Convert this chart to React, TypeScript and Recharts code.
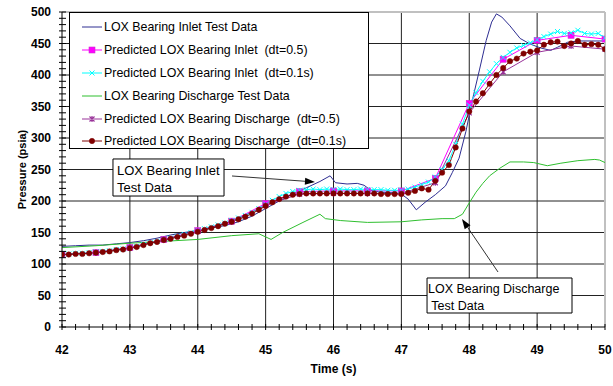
import React from 'react';
import {
  LineChart,
  Line,
  XAxis,
  YAxis,
  CartesianGrid,
  ReferenceLine,
  ReferenceArea,
  Legend,
} from 'recharts';

const FONT = '"Liberation Sans", Arial, Helvetica, sans-serif';

// ---- series names ----
const seriesNames = [
  'LOX Bearing Inlet Test Data',
  'Predicted LOX Bearing Inlet  (dt=0.5)',
  'Predicted LOX Bearing Inlet  (dt=0.1s)',
  'LOX Bearing Discharge Test Data',
  'Predicted LOX Bearing Discharge  (dt=0.5)',
  'Predicted LOX Bearing Discharge  (dt=0.1s)',
];

// ---- axis ticks ----
const xTicks = [
  42, 42.2, 42.4, 42.6, 42.8, 43, 43.2, 43.4, 43.6, 43.8, 44, 44.2, 44.4, 44.6, 44.8,
  45, 45.2, 45.4, 45.6, 45.8, 46, 46.2, 46.4, 46.6, 46.8, 47, 47.2, 47.4, 47.6, 47.8,
  48, 48.2, 48.4, 48.6, 48.8, 49, 49.2, 49.4, 49.6, 49.8, 50,
];
const yTicks = [
  0, 10, 20, 30, 40, 50, 60, 70, 80, 90, 100, 110, 120, 130, 140, 150, 160, 170, 180, 190,
  200, 210, 220, 230, 240, 250, 260, 270, 280, 290, 300, 310, 320, 330, 340, 350, 360, 370,
  380, 390, 400, 410, 420, 430, 440, 450, 460, 470, 480, 490, 500,
];
const gridX = [43, 44, 45, 46, 47, 48, 49];
const gridY = [50, 100, 150, 200, 250, 300, 350, 400, 450];

// ---- time bases of the predictions ----
const time05 = [42, 42.5, 43, 43.5, 44, 44.5, 45, 45.5, 46, 46.5, 47, 47.5, 48, 48.5, 49, 49.5, 50];
const time01 = [
  42.0, 42.1, 42.2, 42.3, 42.4, 42.5, 42.6, 42.7, 42.8, 42.9,
  43.0, 43.1, 43.2, 43.3, 43.4, 43.5, 43.6, 43.7, 43.8, 43.9,
  44.0, 44.1, 44.2, 44.3, 44.4, 44.5, 44.6, 44.7, 44.8, 44.9,
  45.0, 45.1, 45.2, 45.3, 45.4, 45.5, 45.6, 45.7, 45.8, 45.9,
  46.0, 46.1, 46.2, 46.3, 46.4, 46.5, 46.6, 46.7, 46.8, 46.9,
  47.0, 47.1, 47.2, 47.3, 47.4, 47.5, 47.6, 47.7, 47.8, 47.9,
  48.0, 48.1, 48.2, 48.3, 48.4, 48.5, 48.6, 48.7, 48.8, 48.9,
  49.0, 49.1, 49.2, 49.3, 49.4, 49.5, 49.6, 49.7, 49.8, 49.9, 50.0,
];

// ---- LOX bearing inlet test data (psia) ----
const inletTestTime = [
  42.0, 42.2, 42.4, 42.6, 42.8, 43.0, 43.2, 43.4, 43.6, 43.8, 44.0, 44.2, 44.4, 44.6, 44.8,
  45.0, 45.2, 45.4, 45.6, 45.8, 45.95, 46.03, 46.2, 46.35, 46.45, 46.55, 46.7, 46.9, 47.0,
  47.1, 47.22, 47.35, 47.5, 47.65, 47.75, 47.85, 47.95, 48.05, 48.15, 48.25, 48.33, 48.4,
  48.48, 48.6, 48.75, 48.9, 49.05, 49.2, 49.3, 49.45, 49.6, 49.8, 50.0,
];
const inletTestPressure = [
  128, 129, 130, 130, 132, 134, 137, 141, 146, 150, 153, 157, 161, 167, 176,
  188, 200, 211, 221, 231, 240, 229, 227, 228, 225, 217, 214, 213, 211,
  203, 186, 198, 210, 224, 245, 268, 310, 362, 408, 455, 484, 497,
  492, 478, 458, 449, 443, 439, 444, 452, 454, 454, 454,
];

// ---- predicted LOX bearing inlet (psia) ----
const inletPred05 = [115, 118, 126, 139, 153, 168, 196, 215, 216, 216, 216, 236, 355, 425, 455, 463, 457];
const inletPred01 = [
  116, 116, 117, 117, 118, 119, 120, 121, 123, 124,
  126, 128, 131, 134, 136, 139, 141, 144, 147, 150,
  153, 156, 159, 162, 165, 169, 173, 177, 182, 188,
  195, 201, 207, 212, 215, 217, 218, 219, 218, 219,
  218, 219, 218, 218, 219, 218, 218, 218, 217, 217,
  217, 219, 222, 226, 230, 238, 250, 264, 290, 322,
  352, 372, 390, 405, 418, 428, 436, 443, 447, 451,
  456, 461, 465, 469, 466, 467, 471, 466, 465, 466, 459,
];

// ---- LOX bearing discharge test data (psia) ----
const dischTestTime = [
  42.0, 42.5, 43.0, 43.5, 44.0, 44.5, 44.9, 45.08, 45.25, 45.55, 45.8, 45.88, 46.1, 46.5,
  47.0, 47.3, 47.6, 47.78, 47.9, 48.0, 48.1, 48.2, 48.3, 48.45, 48.6, 48.8, 48.95, 49.15,
  49.35, 49.6, 49.85, 49.92, 50.0,
];
const dischTestPressure = [
  126, 129, 133, 136, 139, 145, 148, 139, 150, 166, 179, 172, 169, 166,
  167, 170, 172, 172, 179, 197, 214, 228, 240, 252, 262, 262, 261, 256,
  260, 264, 266, 265, 261,
];

// ---- predicted LOX bearing discharge (psia) ----
const dischPred05 = [115, 118, 126, 139, 152, 167, 193, 211, 212, 212, 212, 229, 340, 405, 436, 446, 441];
const dischPred01 = [
  115, 115, 116, 116, 117, 118, 119, 120, 122, 123,
  125, 127, 130, 133, 135, 138, 140, 143, 145, 148,
  151, 154, 157, 160, 164, 167, 171, 175, 180, 186,
  192, 198, 203, 207, 210, 211, 212, 212, 212, 212,
  212, 212, 212, 212, 212, 212, 212, 211, 211, 211,
  211, 213, 216, 220, 218, 232, 245, 257, 285, 315,
  342, 358, 371, 386, 400, 411, 422, 426, 434, 437,
  439, 448, 452, 453, 446, 450, 454, 448, 449, 448, 441,
];

// ---- annotations ----
const inletNote = ['LOX Bearing Inlet', 'Test Data'];
const dischNote = ['LOX Bearing Discharge', ' Test Data'];

const COLORS = {
  inletTest: '#2e2e92',
  inlet05: '#ff00ff',
  inlet01: '#00ffff',
  dischTest: '#2fbf2f',
  disch05: '#993399',
  disch01: '#800000',
};

const toPoints = (ts: number[], ps: number[]) => ts.map((t, i) => ({ t, p: ps[i] }));

const inletTestData = toPoints(inletTestTime, inletTestPressure);
const inlet05Data = toPoints(time05, inletPred05);
const inlet01Data = toPoints(time01, inletPred01);
const dischTestData = toPoints(dischTestTime, dischTestPressure);
const disch05Data = toPoints(time05, dischPred05);
const disch01Data = toPoints(time01, dischPred01);

// ---- marker glyphs ----
type MarkerKind = 'square' | 'cross' | 'star' | 'circle' | null;

const Glyph = ({ kind, cx, cy, color }: { kind: MarkerKind; cx: number; cy: number; color: string }) => {
  if (kind === 'square') {
    return <rect x={cx - 3} y={cy - 3} width={6} height={6} fill={color} stroke="#cc33cc" strokeWidth={0.6} />;
  }
  if (kind === 'cross') {
    return (
      <path
        d={`M${cx - 2.5},${cy - 2.5}L${cx + 2.5},${cy + 2.5}M${cx - 2.5},${cy + 2.5}L${cx + 2.5},${cy - 2.5}`}
        stroke={color}
        strokeWidth={1}
        fill="none"
      />
    );
  }
  if (kind === 'star') {
    return (
      <path
        d={`M${cx - 2.5},${cy - 2.5}L${cx + 2.5},${cy + 2.5}M${cx - 2.5},${cy + 2.5}L${cx + 2.5},${cy - 2.5}M${cx},${cy - 3}L${cx},${cy + 3}`}
        stroke={color}
        strokeWidth={1.2}
        fill="none"
      />
    );
  }
  if (kind === 'circle') {
    return <circle cx={cx} cy={cy} r={2.7} fill={color} stroke={color} strokeWidth={0.5} />;
  }
  return null;
};

const makeDot = (kind: MarkerKind, color: string) => (props: any) => {
  const { cx, cy, index } = props;
  if (cx == null || cy == null) return <g key={`m-${index}`} />;
  return (
    <g key={`m-${index}`}>
      <Glyph kind={kind} cx={cx} cy={cy} color={color} />
    </g>
  );
};

// ---- axis pieces ----
const XTick = (props: any) => {
  const { x, y, payload } = props;
  const v = payload.value as number;
  const major = Number.isInteger(v);
  return (
    <g>
      <line x1={x} y1={y - 3} x2={x} y2={y + 3} stroke="#000" strokeWidth={1} />
      {major && (
        <text x={x} y={y + 27} textAnchor="middle" fontFamily={FONT} fontWeight="bold" fontSize={12} fill="#000">
          {v}
        </text>
      )}
    </g>
  );
};

const YTick = (props: any) => {
  const { x, y, payload } = props;
  const v = payload.value as number;
  const major = v % 50 === 0;
  return (
    <g>
      <line x1={x - 3} y1={y} x2={x + 4} y2={y} stroke="#000" strokeWidth={1} />
      {major && (
        <text x={x - 11} y={y + 4.3} textAnchor="end" fontFamily={FONT} fontWeight="bold" fontSize={12} fill="#000">
          {v}
        </text>
      )}
    </g>
  );
};

const XTitle = (props: any) => {
  const vb = props.viewBox || { x: 0, y: 0, width: 0, height: 0 };
  return (
    <text x={vb.x + vb.width / 2} y={vb.y + 46} textAnchor="middle" fontFamily={FONT} fontWeight="bold" fontSize={12} fill="#000">
      Time (s)
    </text>
  );
};

const YTitle = (props: any) => {
  const vb = props.viewBox || { x: 0, y: 0, width: 0, height: 0 };
  const cx = vb.x + 22;
  const cy = vb.y + vb.height / 2;
  return (
    <text
      x={cx}
      y={cy}
      transform={`rotate(-90 ${cx} ${cy})`}
      textAnchor="middle"
      dominantBaseline="central"
      fontFamily={FONT}
      fontWeight="bold"
      fontSize={11}
      fill="#000"
    >
      Pressure (psia)
    </text>
  );
};

// ---- annotation text inside a boxed area ----
const NoteText = (props: any) => {
  const { viewBox, lines, offsets, fontSize } = props;
  if (!viewBox) return null;
  return (
    <text fontFamily={FONT} fontSize={fontSize} fill="#000">
      {lines.map((ln: string, i: number) => (
        <tspan key={i} x={viewBox.x + offsets[i][0]} y={viewBox.y + offsets[i][1]} style={{ whiteSpace: 'pre' }}>
          {ln}
        </tspan>
      ))}
    </text>
  );
};

const Arrow = (props: any) => {
  const { x1, y1, x2, y2 } = props;
  if ([x1, y1, x2, y2].some((v) => v == null || Number.isNaN(v))) return <g />;
  const ang = Math.atan2(y2 - y1, x2 - x1);
  const L = 10;
  const W = 3.5;
  const c = Math.cos(ang);
  const s = Math.sin(ang);
  const bx = x2 - L * c;
  const by = y2 - L * s;
  return (
    <g>
      <line x1={x1} y1={y1} x2={bx} y2={by} stroke="#333" strokeWidth={1} />
      <polygon points={`${x2},${y2} ${bx - W * s},${by + W * c} ${bx + W * s},${by - W * c}`} fill="#000" />
    </g>
  );
};

// ---- legend ----
const legendRows: { color: string; marker: MarkerKind }[] = [
  { color: COLORS.inletTest, marker: null },
  { color: COLORS.inlet05, marker: 'square' },
  { color: COLORS.inlet01, marker: 'cross' },
  { color: COLORS.dischTest, marker: null },
  { color: COLORS.disch05, marker: 'star' },
  { color: COLORS.disch01, marker: 'circle' },
];

const LegendBox = () => (
  <div
    style={{
      width: 300,
      height: 137,
      boxSizing: 'border-box',
      border: '1px solid #000',
      background: '#fff',
      position: 'relative',
      fontFamily: FONT,
      fontSize: 12.4,
      color: '#000',
    }}
  >
    {legendRows.map((r, i) => (
      <div
        key={i}
        style={{
          position: 'absolute',
          left: 0,
          top: 3 + i * 22.8,
          height: 22.8,
          width: '100%',
          display: 'flex',
          alignItems: 'center',
        }}
      >
        <svg width={22} height={10} style={{ marginLeft: 11, flex: 'none' }}>
          <line x1={1} y1={5} x2={21} y2={5} stroke={r.color} strokeWidth={1} />
          <Glyph kind={r.marker} cx={11} cy={5} color={r.color} />
        </svg>
        <span style={{ marginLeft: 1, whiteSpace: 'pre' }}>{seriesNames[i]}</span>
      </div>
    ))}
  </div>
);

export default function App() {
  return (
    <div style={{ position: 'absolute', left: 0, top: 0, width: 613, height: 386, background: '#fff' }}>
      <LineChart width={613} height={386} margin={{ top: 12, right: 8, bottom: 0, left: 0 }}>
        <CartesianGrid stroke="#222" strokeWidth={1} verticalValues={gridX} horizontalValues={gridY} />
        <XAxis
          dataKey="t"
          type="number"
          domain={[42, 50]}
          ticks={xTicks}
          interval={0}
          allowDataOverflow
          height={59}
          tickLine={false}
          tickSize={0}
          tickMargin={0}
          axisLine={{ stroke: '#000' }}
          tick={<XTick />}
          label={<XTitle />}
        />
        <YAxis
          type="number"
          domain={[0, 500]}
          ticks={yTicks}
          interval={0}
          allowDataOverflow
          width={62}
          tickLine={false}
          tickSize={0}
          tickMargin={0}
          axisLine={{ stroke: '#000' }}
          tick={<YTick />}
          label={<YTitle />}
        />

        <ReferenceLine y={500} stroke="#c0c0c0" strokeWidth={2} />
        <ReferenceLine x={50} stroke="#c0c0c0" strokeWidth={2} />

        <Line data={inletTestData} dataKey="p" name={seriesNames[0]} type="linear" stroke={COLORS.inletTest}
          strokeWidth={1} dot={false} activeDot={false} isAnimationActive={false} />
        <Line data={inlet05Data} dataKey="p" name={seriesNames[1]} type="linear" stroke={COLORS.inlet05}
          strokeWidth={1} dot={makeDot('square', COLORS.inlet05)} activeDot={false} isAnimationActive={false} />
        <Line data={inlet01Data} dataKey="p" name={seriesNames[2]} type="linear" stroke={COLORS.inlet01}
          strokeWidth={1} dot={makeDot('cross', COLORS.inlet01)} activeDot={false} isAnimationActive={false} />
        <Line data={dischTestData} dataKey="p" name={seriesNames[3]} type="linear" stroke={COLORS.dischTest}
          strokeWidth={1} dot={false} activeDot={false} isAnimationActive={false} />
        <Line data={disch05Data} dataKey="p" name={seriesNames[4]} type="linear" stroke={COLORS.disch05}
          strokeWidth={1} dot={makeDot('star', COLORS.disch05)} activeDot={false} isAnimationActive={false} />
        <Line data={disch01Data} dataKey="p" name={seriesNames[5]} type="linear" stroke={COLORS.disch01}
          strokeWidth={1} dot={makeDot('circle', COLORS.disch01)} activeDot={false} isAnimationActive={false} />

        <ReferenceArea x1={42.751} x2={44.387} y1={207.9} y2={266.7} fill="#fff" fillOpacity={1}
          stroke="#000" strokeWidth={1}
          label={<NoteText lines={inletNote} offsets={[[4, 16], [4, 33]]} fontSize={13} />} />
        <ReferenceLine segment={[{ x: 44.505, y: 239.7 }, { x: 45.727, y: 230.2 }]} shape={<Arrow />} />

        <ReferenceArea x1={47.378} x2={49.514} y1={22.2} y2={77.8} fill="#fff" fillOpacity={1}
          stroke="#000" strokeWidth={1}
          label={<NoteText lines={dischNote} offsets={[[1, 15], [1, 32]]} fontSize={12.5} />} />
        <ReferenceLine segment={[{ x: 48.424, y: 87.3 }, { x: 47.893, y: 171.4 }]} shape={<Arrow />} />

        <Legend
          layout="horizontal"
          verticalAlign="middle"
          align="center"
          wrapperStyle={{ left: 69, top: 12, width: 300, height: 137 }}
          content={() => <LegendBox />}
        />
      </LineChart>
    </div>
  );
}
